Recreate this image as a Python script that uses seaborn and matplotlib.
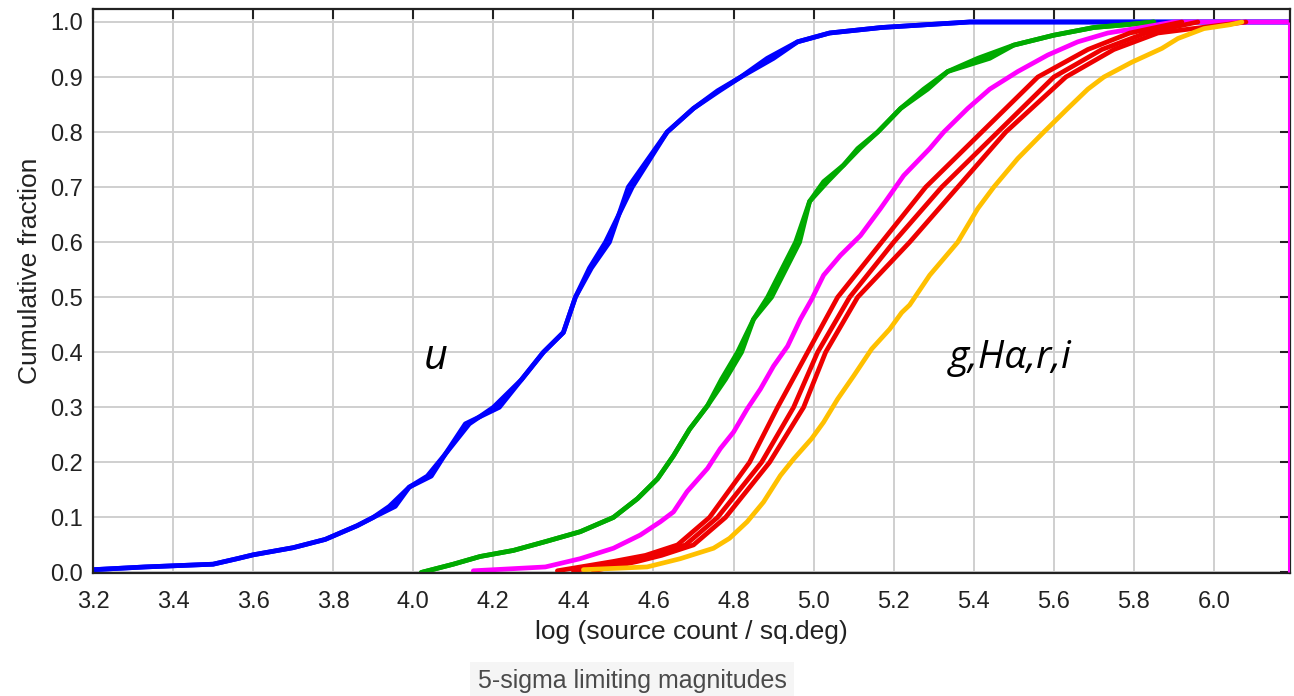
import numpy as np
import pandas as pd
import matplotlib
matplotlib.use("Agg")
import matplotlib.pyplot as plt
import seaborn as sns
from matplotlib import font_manager

# ---------------- data ----------------
blue_a_x = [3.20, 3.33, 3.50, 3.56, 3.60, 3.70, 3.78, 3.86, 3.90, 3.94, 3.99, 4.035, 4.08, 4.14, 4.20, 4.27,
            4.325, 4.375, 4.405, 4.44, 4.48, 4.547, 4.634, 4.70, 4.76, 4.818, 4.884, 4.96, 5.04, 5.17, 5.39, 6.19]
blue_a_y = [0.005, 0.01, 0.015, 0.025, 0.032, 0.045, 0.06, 0.085, 0.10, 0.12, 0.155, 0.175, 0.215, 0.27, 0.30, 0.35,
            0.40, 0.436, 0.50, 0.553, 0.60, 0.70, 0.80, 0.843, 0.875, 0.90, 0.934, 0.964, 0.98, 0.99, 1.0, 1.0]
blue_b_x = [3.20, 3.33, 3.50, 3.56, 3.60, 3.70, 3.78, 3.86, 3.90, 3.955, 3.99, 4.045, 4.08, 4.13, 4.215, 4.27,
            4.325, 4.375, 4.405, 4.445, 4.49, 4.537, 4.634, 4.70, 4.765, 4.818, 4.90, 4.96, 5.04, 5.17, 5.39, 6.19]
blue_b_y = blue_a_y

green_a_x = [4.02, 4.10, 4.167, 4.25, 4.33, 4.417, 4.50, 4.56, 4.61, 4.65, 4.69, 4.735, 4.77, 4.81, 4.85, 4.885,
             4.955, 4.99, 5.025, 5.075, 5.11, 5.16, 5.2175, 5.275, 5.335, 5.41, 5.50, 5.60, 5.70, 5.78, 5.85]
green_a_y = [0.0, 0.015, 0.029, 0.04, 0.056, 0.074, 0.10, 0.134, 0.17, 0.212, 0.26, 0.303, 0.351, 0.40, 0.46, 0.50,
             0.60, 0.674, 0.71, 0.74, 0.77, 0.80, 0.843, 0.878, 0.91, 0.934, 0.958, 0.976, 0.99, 0.995, 1.0]
green_b_x = [4.02, 4.10, 4.167, 4.25, 4.33, 4.417, 4.50, 4.56, 4.61, 4.65, 4.69, 4.735, 4.78, 4.82, 4.85, 4.895,
             4.965, 4.99, 5.035, 5.075, 5.115, 5.16, 5.2175, 5.285, 5.335, 5.44, 5.50, 5.60, 5.70, 5.78, 5.85]
green_b_y = green_a_y

magenta_x = [4.15, 4.33, 4.417, 4.50, 4.567, 4.617, 4.65, 4.684, 4.735, 4.767, 4.80, 4.834, 4.867, 4.90, 4.935,
             4.967, 4.995, 5.025, 5.067, 5.117, 5.167, 5.225, 5.29, 5.325, 5.385, 5.44, 5.51, 5.585, 5.66, 5.735,
             5.82, 5.90, 6.19]
magenta_y = [0.003, 0.01, 0.025, 0.044, 0.068, 0.092, 0.11, 0.147, 0.189, 0.225, 0.255, 0.297, 0.333, 0.375, 0.411,
             0.46, 0.496, 0.54, 0.576, 0.612, 0.661, 0.721, 0.77, 0.80, 0.843, 0.878, 0.91, 0.94, 0.964, 0.98,
             0.99, 1.0, 1.0]

red_y = [0.003, 0.02, 0.031, 0.05, 0.1, 0.2, 0.3, 0.4, 0.5, 0.6, 0.7, 0.8, 0.9, 0.95, 0.98, 1.0]
red_a_x = [4.36, 4.50, 4.58, 4.66, 4.74, 4.84, 4.91, 4.985, 5.06, 5.17, 5.28, 5.42, 5.56, 5.685, 5.79, 5.92]
red_b_x = [4.40, 4.53, 4.60, 4.68, 4.76, 4.87, 4.95, 5.01, 5.09, 5.20, 5.32, 5.46, 5.60, 5.72, 5.83, 5.96]
red_c_x = [4.45, 4.56, 4.62, 4.70, 4.78, 4.89, 4.975, 5.03, 5.11, 5.24, 5.36, 5.48, 5.63, 5.75, 5.86, 6.08]

orange_x = [4.425, 4.584, 4.667, 4.75, 4.79, 4.834, 4.875, 4.917, 4.95, 4.995, 5.025, 5.06, 5.10, 5.145, 5.19,
            5.22, 5.24, 5.29, 5.36, 5.41, 5.45, 5.51, 5.575, 5.635, 5.685, 5.725, 5.795, 5.87, 5.91, 5.975,
            6.04, 6.07]
orange_y = [0.005, 0.01, 0.025, 0.044, 0.062, 0.092, 0.128, 0.176, 0.206, 0.243, 0.273, 0.315, 0.357, 0.406, 0.442,
            0.472, 0.486, 0.54, 0.60, 0.661, 0.70, 0.752, 0.80, 0.843, 0.878, 0.90, 0.927, 0.952, 0.97, 0.988,
            0.995, 1.0]

x_ticks = [3.2, 3.4, 3.6, 3.8, 4.0, 4.2, 4.4, 4.6, 4.8, 5.0, 5.2, 5.4, 5.6, 5.8, 6.0]
y_ticks = [0.0, 0.1, 0.2, 0.3, 0.4, 0.5, 0.6, 0.7, 0.8, 0.9, 1.0]

curves = [
    ("u_a", blue_a_x, blue_a_y, "#0000FF"),
    ("u_b", blue_b_x, blue_b_y, "#0000FF"),
    ("g_a", green_a_x, green_a_y, "#00AA00"),
    ("g_b", green_b_x, green_b_y, "#00AA00"),
    ("ha", magenta_x, magenta_y, "#FF00FF"),
    ("r_a", red_a_x, red_y, "#EE0000"),
    ("r_b", red_b_x, red_y, "#EE0000"),
    ("r_c", red_c_x, red_y, "#EE0000"),
    ("i", orange_x, orange_y, "#FFC000"),
]

rows = []
for name, xs, ys, _ in curves:
    for i, (xv, yv) in enumerate(zip(xs, ys)):
        rows.append({"curve": name, "x": xv, "y": yv, "order": i})
df = pd.DataFrame(rows)
palette = {name: c for name, _, _, c in curves}

# ---------------- styling ----------------
sns.set_style("white")
avail = {f.name for f in font_manager.fontManager.ttflist}
tick_font = "Liberation Sans Narrow" if "Liberation Sans Narrow" in avail else "Liberation Sans"
plt.rcParams["font.family"] = [tick_font, "DejaVu Sans"]

fig = plt.figure(figsize=(12.94, 6.96), dpi=100)
ax = fig.add_axes([93 / 1294, 1 - 573 / 696, (1290 - 93) / 1294, (573 - 9) / 696])

sns.lineplot(data=df, x="x", y="y", hue="curve", palette=palette, units="curve",
             estimator=None, sort=False, legend=False, linewidth=3.4, ax=ax)

# final vertical step of the magenta curve at the right edge
ax.plot([6.187, 6.187], [0.0, 1.0], color="#FF00FF", lw=2.2, zorder=5, solid_capstyle="butt")

ax.set_xlim(3.2, 6.19)
ax.set_ylim(-0.001, 1.0236)
ax.set_xticks(x_ticks)
ax.set_yticks(y_ticks)
ax.set_xticklabels([f"{v:.1f}" for v in x_ticks])
ax.set_yticklabels([f"{v:.1f}" for v in y_ticks])

ax.grid(True, color="#cfcfcf", linewidth=1.4)
ax.set_axisbelow(True)
for s in ax.spines.values():
    s.set_color("#222222")
    s.set_linewidth(1.6)

fsz = 17
ax.tick_params(axis="both", direction="in", length=7, width=1.5, color="#222222",
               top=True, right=True, labelsize=fsz, labelcolor="#222222")
ax.tick_params(axis="x", pad=13)
ax.tick_params(axis="y", pad=7)

ax.set_xlabel("log (source count / sq.deg)", fontsize=19, color="#222222", labelpad=5)
ax.set_ylabel("Cumulative fraction", fontsize=19, color="#222222")
ax.yaxis.set_label_coords(-0.043, 0.535)

lab_font = ["Open Sans", "DejaVu Sans"]
ax.text(4.055, 0.39, "u", fontsize=30, style="italic", family=lab_font,
        ha="center", va="center", color="black")
ax.text(5.49, 0.39, "g,H\u03b1,r,i", fontsize=28, style="italic", family=lab_font,
        ha="center", va="center", color="black")

fig.text(632 / 1294, 1 - 681 / 696, "5-sigma limiting magnitudes", fontsize=18, color="#4a4a4a",
         ha="center", va="center",
         bbox=dict(boxstyle="square,pad=0.3", facecolor="#f5f5f5", edgecolor="none"))

fig.savefig("out.png", dpi=100)
